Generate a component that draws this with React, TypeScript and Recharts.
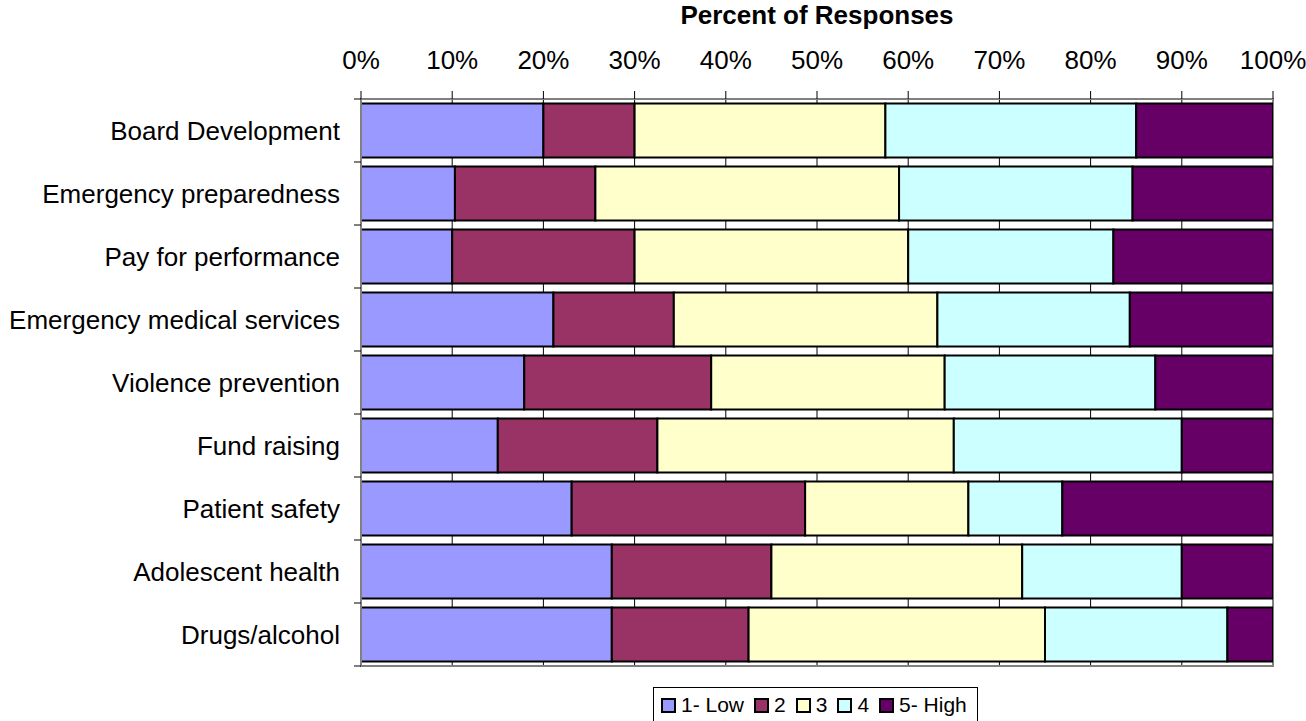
import React from 'react';
import {
  BarChart,
  Bar,
  XAxis,
  YAxis,
  CartesianGrid,
  ReferenceArea,
} from 'recharts';

const categories = [
  'Board Development',
  'Emergency preparedness',
  'Pay for performance',
  'Emergency medical services',
  'Violence prevention',
  'Fund raising',
  'Patient safety',
  'Adolescent health',
  'Drugs/alcohol',
];

// percent of responses per rating, same order as categories
const lowValues = [20, 10.3, 10, 21.1, 17.9, 15, 23.1, 27.5, 27.5];
const twoValues = [10, 15.4, 20, 13.2, 20.5, 17.5, 25.6, 17.5, 15];
const threeValues = [27.5, 33.3, 30, 28.9, 25.6, 32.5, 17.9, 27.5, 32.5];
const fourValues = [27.5, 25.6, 22.5, 21.1, 23.1, 25, 10.3, 17.5, 20];
const highValues = [15, 15.4, 17.5, 15.7, 12.9, 10, 23.1, 10, 5];

const xTicks = [0, 10, 20, 30, 40, 50, 60, 70, 80, 90, 100];

const series = [
  { key: 'low', name: '1- Low', color: '#9999FF' },
  { key: 'two', name: '2', color: '#993366' },
  { key: 'three', name: '3', color: '#FFFFCC' },
  { key: 'four', name: '4', color: '#CCFFFF' },
  { key: 'high', name: '5- High', color: '#660066' },
];

const data = categories.map((name, i) => ({
  name,
  low: lowValues[i],
  two: twoValues[i],
  three: threeValues[i],
  four: fourValues[i],
  high: highValues[i],
}));

const FONT = 'Arial, "Liberation Sans", sans-serif';
const PLOT_TOP = 99;
const PLOT_BOTTOM = 666;
const BAND = (PLOT_BOTTOM - PLOT_TOP) / categories.length;

function CategoryTick(props: any) {
  const { y, payload, index } = props;
  const top = y - BAND / 2;
  return (
    <g>
      <line x1={354} x2={361} y1={top} y2={top} stroke="#000" strokeWidth={1} />
      {index === categories.length - 1 && (
        <line x1={354} x2={361} y1={top + BAND} y2={top + BAND} stroke="#000" strokeWidth={1} />
      )}
      <text
        x={340}
        y={y + 9}
        textAnchor="end"
        fontSize={26}
        fontFamily={FONT}
        fill="#000"
      >
        {payload.value}
      </text>
    </g>
  );
}

function LegendBox() {
  return (
    <div
      style={{
        position: 'absolute',
        left: 653,
        top: 687,
        height: 36,
        padding: '0 0 0 7px',
        border: '1px solid #000',
        display: 'flex',
        alignItems: 'center',
        fontFamily: FONT,
        fontSize: 21,
        background: '#fff',
        boxSizing: 'border-box',
      }}
    >
      {series.map((s) => (
        <div key={s.key} style={{ display: 'flex', alignItems: 'center', marginRight: 10 }}>
          <span
            style={{
              display: 'inline-block',
              width: 15,
              height: 15,
              background: s.color,
              border: '2px solid #000',
              boxSizing: 'border-box',
              marginRight: 5,
            }}
          />
          <span>{s.name}</span>
        </div>
      ))}
    </div>
  );
}

export default function App() {
  return (
    <div style={{ position: 'absolute', left: 0, top: 0, width: 1306, height: 721, background: '#fff' }}>
      <BarChart
        width={1306}
        height={721}
        data={data}
        layout="vertical"
        margin={{ top: 0, right: 33, left: 0, bottom: 721 - PLOT_BOTTOM }}
        barCategoryGap="7%"
      >
        <CartesianGrid horizontal={false} vertical stroke="#000" strokeWidth={1} />
        <XAxis
          type="number"
          orientation="top"
          domain={[0, 100]}
          ticks={xTicks}
          tickFormatter={(v: number) => `${v}%`}
          height={PLOT_TOP}
          tickSize={8}
          tickMargin={22}
          tick={{ fontSize: 26, fontFamily: FONT, fill: '#000' }}
          tickLine={{ stroke: '#000' }}
          axisLine={{ stroke: '#808080', strokeWidth: 2 }}
          label={{
            value: 'Percent of Responses',
            position: 'insideTop',
            offset: 6,
            style: { fontSize: 26, fontWeight: 'bold', fontFamily: FONT, fill: '#000' },
          }}
          allowDataOverflow
        />
        <YAxis
          type="category"
          dataKey="name"
          width={361}
          tickLine={false}
          axisLine={{ stroke: '#808080', strokeWidth: 2 }}
          tick={<CategoryTick />}
          interval={0}
        />
        <ReferenceArea
          x1={0}
          x2={100}
          fill="none"
          stroke="#808080"
          strokeWidth={2}
          ifOverflow="visible"
        />
        {series.map((s) => (
          <Bar
            key={s.key}
            dataKey={s.key}
            name={s.name}
            stackId="a"
            fill={s.color}
            stroke="#000"
            strokeWidth={2}
            isAnimationActive={false}
          />
        ))}
      </BarChart>
      <LegendBox />
    </div>
  );
}
